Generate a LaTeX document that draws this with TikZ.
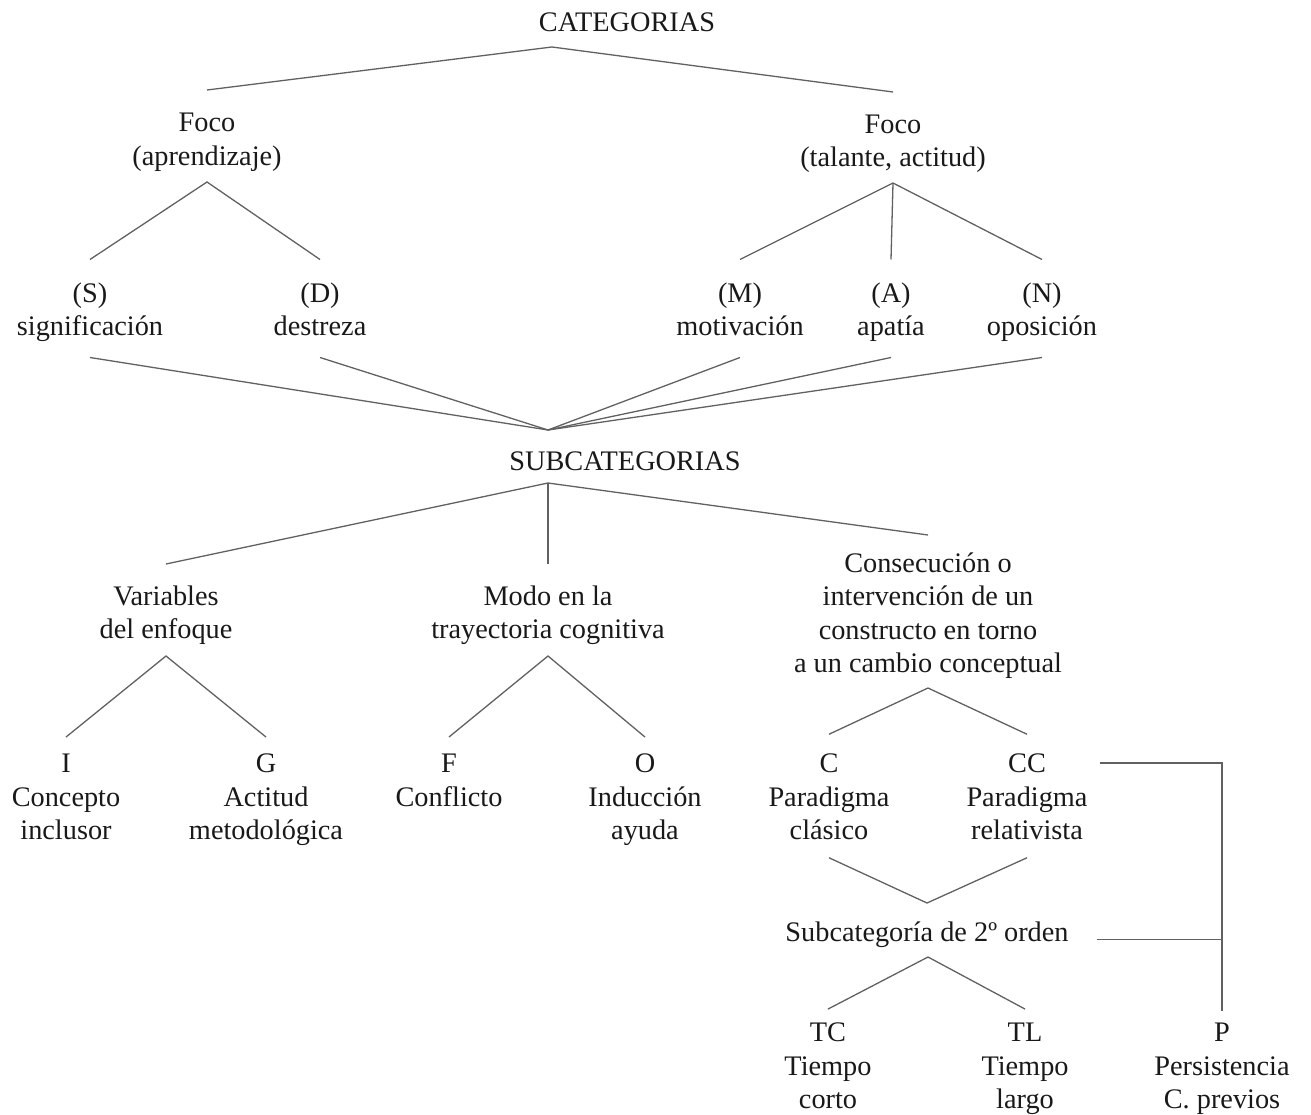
\documentclass[tikz,border=0pt]{standalone}
\usepackage{fontspec}
\setmainfont{Liberation Serif}
\usepackage{xcolor}
\usepackage{tikz}
\usetikzlibrary{positioning}
\definecolor{inkgray}{rgb}{0.1,0.1,0.1}
\definecolor{linegray}{rgb}{0.38,0.38,0.38}
% strut: same top and bottom for every line
\newcommand\lstrut{\rule[-6.5pt]{0pt}{33.5pt}}

\begin{document}
\begin{tikzpicture}[x=1pt, y=-1pt,
    lbl/.style={inner sep=0pt, outer ysep=#1, align=center, text=inkgray,
        font=\fontsize{28.3}{33.5}\selectfont, execute at end node=\lstrut},
    lbl/.default=0pt,
    link/.style={draw=linegray, line width=1.3pt}
]
\useasboundingbox (0,0) rectangle (1311,1115);

% categorias
\node[lbl] (cat) at (627,21.25) {CATEGORIAS};
\coordinate (cat-j) at (552,47);
\node[lbl=14.7pt] (foco1) at (207,138.2) {\lstrut Foco\\(aprendizaje)};
\node[lbl=14.5pt] (foco2) at (893,140) {\lstrut Foco\\(talante, actitud)};
\coordinate (foco1-j) at (207,182);
\coordinate (foco2-j) at (893,183);

\node[lbl=15.5pt] (s) at (90,308.5) {\lstrut(S)\\significación};
\node[lbl=15.5pt] (d) at (320,308.5) {\lstrut(D)\\destreza};
\node[lbl=15.5pt] (m) at (740,308.5) {\lstrut(M)\\motivación};
\node[lbl=15.5pt] (a) at (891,308.5) {\lstrut(A)\\apatía};
\node[lbl=15.5pt] (n) at (1042,308.5) {\lstrut(N)\\oposición};

\draw[link] (foco1.north) -- (cat-j) -- (foco2.north);
\draw[link] (s.north) -- (foco1-j) -- (d.north);
\draw[link] (m.north) -- (foco2-j) -- (n.north);
\draw[link] (foco2-j) -- (a.north);

% subcategorias
\coordinate (sub-in) at (548,430);
\foreach \k in {s,d,m,a,n}
    \draw[link] (\k.south) -- (sub-in);
\node[lbl] (sub) at (625,460.25) {SUBCATEGORIAS};
\coordinate (sub-j) at (548,483);

\node[lbl=14pt] (var) at (166,611.5) {\lstrut Variables\\del enfoque};
\node[lbl=14pt] (modo) at (548,611.5) {\lstrut Modo en la\\trayectoria cognitiva};
\node[lbl=10pt] (cons) at (928,612) {\lstrut Consecución o\\intervención de un\\constructo en torno\\a un cambio conceptual};
\coordinate (var-j) at (166,656);
\coordinate (modo-j) at (548,656);
\coordinate (cons-j) at (928,688);

\draw[link] (var.north) -- (sub-j) -- (cons.north);
\draw[link] (sub-j) -- (modo.north);

\node[lbl=8.7pt] (i) at (66,796) {\lstrut I\\Concepto\\inclusor};
\node[lbl=8.7pt] (g) at (266,796) {\lstrut G\\Actitud\\metodológica};
\node[lbl=8.7pt] (f) at (449,779.2) {\lstrut F\\Conflicto};
\node[lbl=8.7pt] (o) at (645,796) {\lstrut O\\Inducción\\ayuda};
\node[lbl=11.5pt] (c) at (829,796) {\lstrut C\\Paradigma\\clásico};
\node[lbl=11.5pt] (cc) at (1027,796) {\lstrut CC\\Paradigma\\relativista};

\draw[link] (i.north) -- (var-j) -- (g.north);
\draw[link] (f.north) -- (modo-j) -- (o.north);
\draw[link] (c.north) -- (cons-j) -- (cc.north);

% segundo orden
\node[lbl=11.5pt] (sub2) at (927,931.25) {Subcategoría de 2º orden};
\coordinate (sub2-j) at (928,957);
\draw[link] (c.south) -- (sub2.north) -- (cc.south);

\node[lbl=5.7pt] (tc) at (828,1065) {\lstrut TC\\Tiempo\\corto};
\node[lbl=5.7pt] (tl) at (1025,1065) {\lstrut TL\\Tiempo\\largo};
\node[lbl=3.7pt] (p) at (1222,1065) {\lstrut P\\Persistencia\\C. previos};
\draw[link] (tc.north) -- (sub2-j) -- (tl.north);

% persistencia
\coordinate (cc-tab) at (1100,763);
\draw[link] (cc-tab) -| (p.north);
\draw[link, shorten <=28pt] (sub2.mid east) -- (sub2.mid east -| p.north);

\end{tikzpicture}
\end{document}
